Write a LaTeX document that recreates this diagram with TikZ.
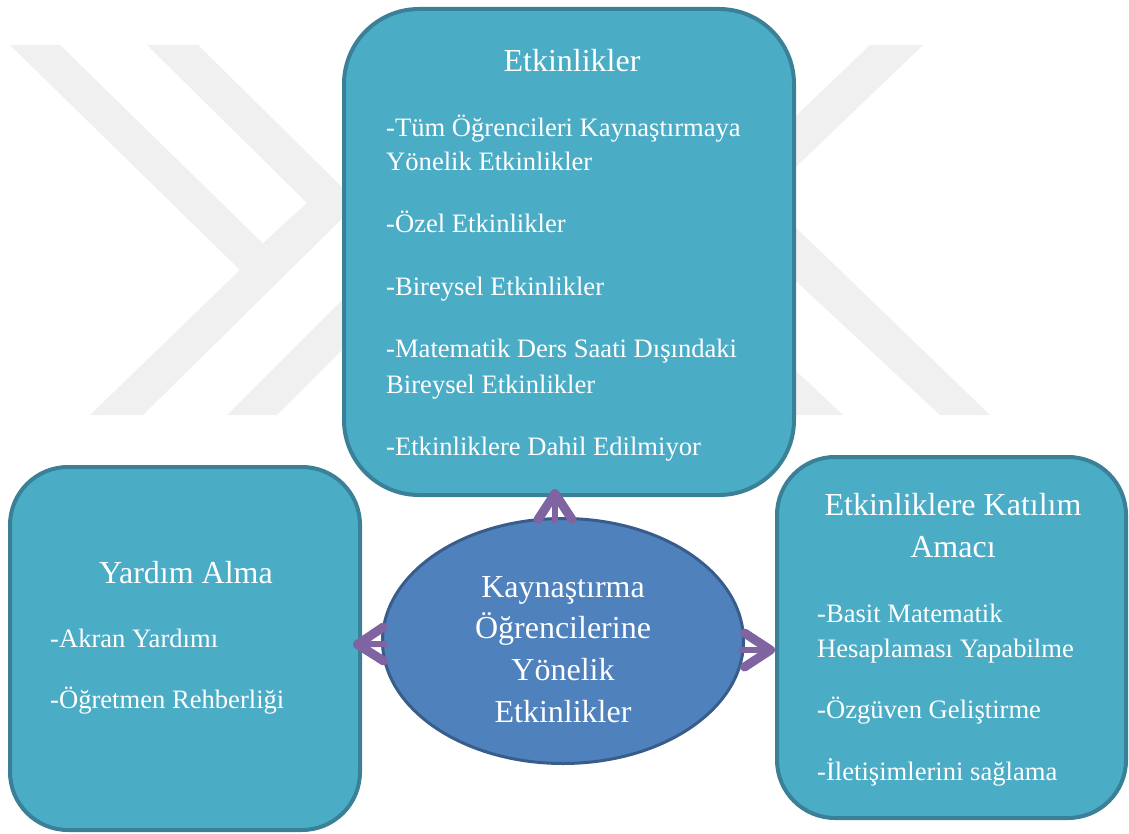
\documentclass[tikz,border=0pt]{standalone}
\usepackage{fontspec}
\setmainfont{Liberation Serif}
\usetikzlibrary{arrows.meta,shapes.geometric}

\definecolor{boxfill}{HTML}{4BACC6}
\definecolor{boxline}{HTML}{3A8197}
\definecolor{ellfill}{HTML}{4F81BD}
\definecolor{ellline}{HTML}{385D8A}
\definecolor{arrowc}{HTML}{8064A2}
\definecolor{wmark}{HTML}{F0F0F0}

\tikzset{
  panel/.style={draw=boxline, fill=boxfill, line width=4pt, rectangle, inner sep=0pt},
  hub/.style={draw=ellline, fill=ellfill, line width=3pt, ellipse, inner sep=0pt,
    minimum width=361pt, minimum height=245pt},
  title/.style={text=white, inner sep=0pt, anchor=base, font=\rmfamily\fontsize{32}{42}\selectfont},
  item/.style={text=white, inner sep=0pt, anchor=base west, font=\rmfamily\fontsize{26.6}{35}\selectfont},
  link/.style={draw=arrowc, line width=6pt,
    -{Straight Barb[length=26pt,width=34pt,line width=9pt,round]}},
  stripe/.style={fill=wmark, draw=none}
}

\begin{document}
\begin{tikzpicture}[x=1pt,y=-1pt]
  \useasboundingbox (0,0) rectangle (1129,834);
  \fill[white] (0,0) rectangle (1129,834);

  % background logo stripes
  \fill[stripe] (10,45) -- (60,45) -- (290,270) -- (143,415) -- (90,415) -- (240,270) -- cycle;
  \fill[stripe] (147,45) -- (198,45) -- (358,203) -- (290,270) -- (263,243) -- (307,203) -- cycle;
  \fill[stripe] (227,415) -- (277,415) -- (400,292) -- (400,242) -- cycle;
  \fill[stripe] (870,45) -- (923,45) -- (700,259) -- (700,208) -- cycle;
  \fill[stripe] (990,415) -- (940,415) -- (700,192) -- (700,135) -- cycle;
  \fill[stripe] (843,415) -- (793,415) -- (700,328) -- (700,281) -- cycle;

  % panels
  \node[panel, rounded corners=75pt, minimum width=450pt, minimum height=486pt] (top) at (569,252) {};
  \node[panel, rounded corners=58pt, minimum width=350pt, minimum height=363pt] (left) at (185,648.5) {};
  \node[panel, rounded corners=58pt, minimum width=349pt, minimum height=361pt] (right) at (951.5,637.5) {};

  % central ellipse
  \node[hub] (ell) at (563,641) {};

  % texts of the upper panel
  \node[title] (topT) at (572,72) {Etkinlikler};
  \node[item] (t1) at (386,137) {-Tüm Öğrencileri Kaynaştırmaya};
  \node[item] (t1b) at (386,171) {Yönelik Etkinlikler};
  \node[item] (t2) at (386,233) {-Özel Etkinlikler};
  \node[item] (t3) at (386,295) {-Bireysel Etkinlikler};
  \node[item] (t4) at (386,357) {-Matematik Ders Saati Dışındaki};
  \node[item] (t4b) at (386,393) {Bireysel Etkinlikler};
  \node[item] (t5) at (386,455) {-Etkinliklere Dahil Edilmiyor};

  % texts of the left panel
  \node[title] (leftT) at (186,583) {Yardım Alma};
  \node[item] (l1) at (50,647) {-Akran Yardımı};
  \node[item] (l2) at (50,708) {-Öğretmen Rehberliği};

  % texts of the right panel
  \node[title] (rightT) at (953,515) {Etkinliklere Katılım};
  \node[title] (rightT2) at (953,557) {Amacı};
  \node[item] (r1) at (817,622) {-Basit Matematik};
  \node[item] (r1b) at (817,657) {Hesaplaması Yapabilme};
  \node[item] (r2) at (817,718) {-Özgüven Geliştirme};
  \node[item] (r3) at (817,780) {-İletişimlerini sağlama};

  % texts of the ellipse
  \node[title] (e1) at (563,597) {Kaynaştırma};
  \node[title] (e2) at (563,638) {Öğrencilerine};
  \node[title] (e3) at (563,680) {Yönelik};
  \node[title] (e4) at (563,722) {Etkinlikler};

  % connectors
  \draw[link] ([xshift=-8pt,yshift=-6pt]ell.north) -- ([xshift=-14pt,yshift=8pt]top.south);
  \draw[link] ([xshift=6pt,yshift=-3pt]ell.west) -- ([xshift=-9pt,yshift=4pt]left.east);
  \draw[link] ([xshift=-6pt,yshift=-9pt]ell.east) -- ([yshift=-12.5pt]right.west);
\end{tikzpicture}
\end{document}
